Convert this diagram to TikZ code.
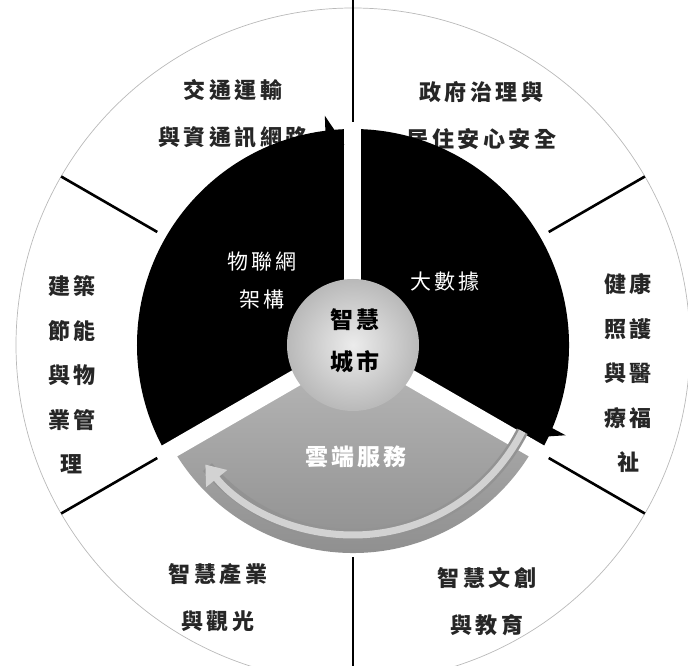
\documentclass[tikz,border=0pt]{standalone}
\usepackage{fontspec}
\newfontfamily\cjk{Noto Sans CJK TC}[LetterSpace=16]
\newfontfamily\cjkin{Noto Sans CJK TC}[LetterSpace=14]
\usetikzlibrary{arrows.meta}
\begin{document}
\begin{tikzpicture}[x=1pt,y=1pt,
  lbl/.style={font=\fontsize{22}{47}\selectfont\cjk\bfseries, align=center, text=black!85, inner sep=0pt},
  stack/.style={font=\fontsize{22}{44.5}\selectfont\cjk\bfseries, align=center, text=black!85, inner sep=0pt},
  inlbl/.style={font=\fontsize{21}{38}\selectfont\cjkin, align=center, text=white, inner sep=0pt},
  boldlbl/.style={font=\fontsize{23}{42}\selectfont\cjkin\bfseries, align=center, inner sep=0pt},
  sepline/.style={line width=2.6pt, black},
  gapline/.style={white, line width=17pt},
  barb/.style={fill=black}]
\useasboundingbox (-353,-321) rectangle (335,345);
\clip (-353,-321) rectangle (335,345);
% outer faint circle
\draw[gray!55, line width=0.7pt] (0,0) circle[radius=337];
% outer labels
\node[lbl] (tl) at (-120,231.5) {交通運輸\\與資通訊網路};
\node[lbl] (tr) at (128.5,229) {政府治理與\\居住安心安全};
\node[stack] (lf) at (-281,-30) {建築\\節能\\與物\\業管\\理};
\node[stack] (rt) at (275,-28.5) {健康\\照護\\與醫\\療福\\祉};
\node[lbl] (bl) at (-135,-253) {智慧產業\\與觀光};
\node[lbl] (br) at (134,-257) {智慧文創\\與教育};
% dark sectors
\fill[black] (0,0) -- (90:216) arc[start angle=90,end angle=210,radius=216] -- cycle;
\fill[black] (0,0) -- (-30:216) arc[start angle=-30,end angle=90,radius=216] -- cycle;
% grey sector
\shade[top color=gray!55, bottom color=gray!92] (0,0) -- (210:208) arc[start angle=210,end angle=330,radius=208] -- cycle;
% gaps
\draw[gapline] (0,0) -- (90:222);
\draw[gapline] (0,0) -- (210:222);
\draw[gapline] (0,0) -- (330:222);
% arrow barbs
\fill[barb] (97:231) -- (97.5:210) -- (-8.5,200) -- cycle;
\fill[barb] (-23:231) -- (-22.5:210) -- (177.5,-92.6) -- cycle;
% grey band arrow
\draw[gray!85, line width=12pt] (-27:190) arc[start angle=-27,end angle=-140,radius=190];
\draw[gray!35, line width=7pt, -{Triangle[width=26pt,length=18pt]}] (-27:190) arc[start angle=-27,end angle=-141,radius=190];
% centre hub
\node[circle, minimum size=132pt, inner sep=0pt, inner color=gray!15, outer color=gray!55] (hub) at (0,0) {};
\node[boldlbl, text=black] (hubtext) at (2,4) {智慧\\城市};
% inner labels
\node[inlbl] (iot) at (-91,64) {物聯網\\架構};
\node[inlbl] (bigdata) at (92,63) {大數據};
\node[boldlbl, text=white] (cloud) at (3,-112) {雲端服務};
% separator lines
\draw[sepline] (90:223) -- (90:350);
\draw[sepline] (270:212) -- (270:330);
\draw[sepline] (30:226) -- (30:337);
\draw[sepline] (150:226) -- (150:337);
\draw[sepline] (210:226) -- (210:337);
\draw[sepline] (330:226) -- (330:337);
\end{tikzpicture}
\end{document}
